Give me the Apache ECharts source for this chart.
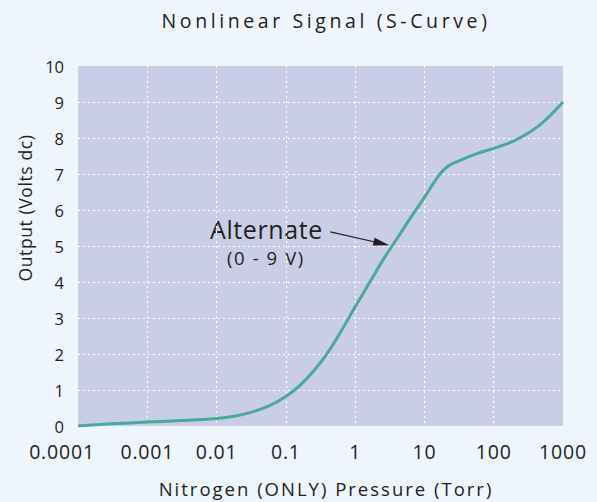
<!DOCTYPE html>
<html lang="en">
<head>
    <meta charset="UTF-8">
    <title>Nonlinear Signal (S-Curve)</title>
    <style type="text/css">
        html, body {
            margin: 0;
            padding: 0;
            background: #eef5fc;
        }

        #s-curve-chart {
            width: 597px;
            height: 502px;
        }

        /* tracking of the original lettering, keyed on the font tag */
        #s-curve-chart text[style*="ls-title"] { letter-spacing: 3.6px; }
        #s-curve-chart text[style*="ls-name"] { letter-spacing: 2px; }
        #s-curve-chart text[style*="ls-yname"] { letter-spacing: 0.6px; }
        #s-curve-chart text[style*="ls-tick"] { letter-spacing: 0.8px; }
        #s-curve-chart text[style*="ls-big"] { letter-spacing: 0.6px; }
        #s-curve-chart text[style*="ls-note"] { letter-spacing: 1.6px; }
    </style>
</head>
<body>
<div id="s-curve-chart"></div>
<script src="https://cdn.jsdelivr.net/npm/echarts@6/dist/echarts.min.js" type="text/javascript"></script>
<script type="text/javascript">
    // pressure (Torr)
    const pressure = [0.0001, 0.0003, 0.001, 0.003, 0.01, 0.018, 0.03, 0.056, 0.1, 0.16,
        0.25, 0.4, 0.63, 1, 1.6, 2.5, 4, 6.3, 10, 16, 22, 32, 56, 100, 200, 355, 560, 1000];
    // output voltage (Volts dc)
    const output = [0.0, 0.06, 0.11, 0.15, 0.21, 0.27, 0.37, 0.55, 0.82, 1.13,
        1.52, 2.03, 2.64, 3.31, 3.97, 4.6, 5.2, 5.78, 6.35, 6.95, 7.22, 7.37, 7.56, 7.71, 7.93, 8.2, 8.5, 9.0];
    const xTickLabels = ['0.0001', '0.001', '0.01', '0.1', '1', '10', '100', '1000'];
    const arrowFrom = [0.44, 5.39];  //annotation arrow, data coords
    const arrowTo = [2.4, 5.07];

    const chart = echarts.init(document.getElementById("s-curve-chart"), null, {renderer: 'svg'});
    const fam = tag => '"Open Sans", ' + tag + ', sans-serif';
    const ink = '#231f20';

    const option = {
        backgroundColor: '#eef5fc',
        animation: false,
        title: {
            text: 'Nonlinear Signal (S-Curve)',
            left: 321,
            textAlign: 'center',
            top: 5,
            textStyle: {fontFamily: fam('ls-title'), fontSize: 19.5, fontWeight: 'normal', color: ink}
        },
        grid: {
            left: 78, right: 34, top: 66, bottom: 76,
            outerBoundsMode: 'none',
            show: true, backgroundColor: '#c9cde6', borderWidth: 0
        },
        xAxis: {
            type: 'log',
            logBase: 10,
            min: 0.0001,
            max: 1000,
            name: 'Nitrogen (ONLY) Pressure (Torr)',
            nameLocation: 'middle',
            nameGap: 53,
            nameTextStyle: {fontFamily: fam('ls-name'), fontSize: 18.5, color: ink, padding: [0, 0, 0, 11]},
            axisLine: {show: false},
            axisTick: {show: false},
            axisLabel: {
                margin: 15,
                fontFamily: fam('ls-tick'), fontSize: 19.5, color: ink,
                formatter: v => {
                    let i = Math.round(Math.log10(v)) + 4;
                    return i === 0 ? '{first|' + xTickLabels[i] + '}' : xTickLabels[i];
                },
                rich: {
                    first: {fontFamily: fam('ls-tick'), fontSize: 19.5, color: ink, padding: [0, 32, 0, 0]}
                }
            },
            splitLine: {
                show: true, showMinLine: false, showMaxLine: false,
                lineStyle: {color: '#ffffff', type: [2, 3], width: 1.2}
            },
            minorSplitLine: {show: false}
        },
        yAxis: {
            type: 'value',
            min: 0,
            max: 10,
            interval: 1,
            name: 'Output (Volts dc)',
            nameLocation: 'middle',
            nameGap: 44,
            nameTextStyle: {fontFamily: fam('ls-yname'), fontSize: 17.5, color: ink, padding: [0, 0, 0, 76]},
            axisLine: {show: false},
            axisTick: {show: false},
            axisLabel: {margin: 14, fontFamily: '"Open Sans", sans-serif', fontSize: 16.5, color: ink},
            splitLine: {
                show: true, showMinLine: false, showMaxLine: false,
                lineStyle: {color: '#ffffff', type: [2, 3], width: 1.2}
            }
        },
        series: [{
            type: 'line',
            data: pressure.map((p, i) => [p, output[i]]),
            smooth: 0.4,
            symbol: 'none',
            lineStyle: {color: '#4aa99a', width: 3},
            markLine: {
                silent: true,
                symbol: ['none', 'triangle'],
                symbolSize: [8, 16],
                label: {show: false},
                lineStyle: {color: ink, width: 1.2, type: 'solid'},
                data: [[{coord: arrowFrom}, {coord: arrowTo}]]
            }
        }],
        graphic: [
            {
                type: 'text', x: 210, y: 229,
                style: {text: 'Alternate', fontFamily: fam('ls-big'), fontSize: 25, fill: ink, verticalAlign: 'middle'}
            },
            {
                type: 'text', x: 227, y: 257,
                style: {text: '(0 - 9 V)', fontFamily: fam('ls-note'), fontSize: 18.5, fill: ink, verticalAlign: 'middle'}
            }
        ]
    };
    chart.setOption(option);
</script>
</body>
</html>
